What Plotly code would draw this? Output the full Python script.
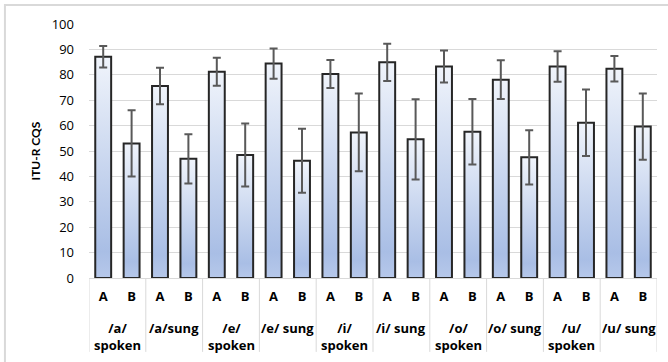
import plotly.graph_objects as go

# Listening-test scores (ITU-R CQS) for two systems per vowel / speaking condition
conditions = ["/a/<br>spoken", "/a/sung", "/e/<br>spoken", "/e/ sung", "/i/<br>spoken",
              "/i/ sung", "/o/<br>spoken", "/o/ sung", "/u/<br>spoken", "/u/ sung"]
systems = ["A", "B"]

mean_a = [87.1, 75.6, 81.2, 84.4, 80.3, 84.9, 83.3, 78.1, 83.3, 82.4]
mean_b = [53.0, 46.9, 48.4, 46.2, 57.3, 54.6, 57.6, 47.5, 61.1, 59.6]
sd_a = [4.2, 7.2, 5.5, 6.0, 5.5, 7.3, 6.3, 7.6, 6.0, 5.0]
sd_b = [13.0, 9.7, 12.4, 12.6, 15.3, 15.8, 12.9, 10.7, 13.1, 13.0]

y_ticks = [0, 10, 20, 30, 40, 50, 60, 70, 80, 90, 100]

# flatten into bar order: A, B for each condition
inner, values, errors = [], [], []
for k in range(len(conditions)):
    for s, m, e in ((systems[0], mean_a[k], sd_a[k]), (systems[1], mean_b[k], sd_b[k])):
        inner.append(s)
        values.append(m)
        errors.append(e)

n = len(values)
pos = list(range(n))
bar_w = 0.56
font = "Open Sans"
grid = "#d9d9d9"

fig = go.Figure()

# bars with vertical gradient fill
for i, v in zip(pos, values):
    x0, x1 = i - bar_w / 2, i + bar_w / 2
    fig.add_trace(go.Scatter(
        x=[x0, x0, x1, x1, x0], y=[0, v, v, 0, 0],
        mode="lines", fill="toself",
        line=dict(color="#262626", width=2),
        fillgradient=dict(type="vertical", start=0, stop=v,
                          colorscale=[[0, "#b6c8ea"], [0.12, "#a9bee5"], [1, "#f0f4fb"]]),
        hoverinfo="skip", showlegend=False))

# standard-deviation whiskers
fig.add_trace(go.Scatter(
    x=pos, y=values, mode="markers",
    marker=dict(size=1, color="rgba(0,0,0,0)"),
    error_y=dict(type="data", array=errors, visible=True, color="#595959",
                 thickness=2, width=4),
    hoverinfo="skip", showlegend=False))

# group separators below the category axis
shapes = []
for b in range(0, n + 1, 2):
    shapes.append(dict(type="line", xref="x", yref="paper", x0=b - 0.5, x1=b - 0.5,
                       y0=0, y1=-0.291, line=dict(color=grid, width=1)))
# chart frame
shapes.append(dict(type="rect", xref="paper", yref="paper",
                   x0=-0.148, x1=1.3, y0=-0.6, y1=1.075,
                   line=dict(color=grid, width=2), fillcolor="rgba(0,0,0,0)", layer="below"))

# condition labels under each A/B pair
annotations = []
for k, c in enumerate(conditions):
    annotations.append(dict(text=c, x=2 * k + 0.5, xref="x", y=-0.155, yref="paper",
                            xanchor="center", yanchor="top", showarrow=False,
                            font=dict(family=font, size=13, color="#000000", weight="bold")))

fig.update_layout(
    width=668, height=362,
    margin=dict(l=89, r=11, t=24, b=84),
    paper_bgcolor="white", plot_bgcolor="white",
    font=dict(family=font, size=13, color="#000000"),
    xaxis=dict(range=[-0.5, n - 0.5], tickvals=pos, ticktext=inner,
               showline=True, linecolor=grid, linewidth=1,
               showgrid=False, zeroline=False, ticks="",
               ticklabelstandoff=6,
               tickfont=dict(family=font, size=13, color="#000000", weight="bold")),
    yaxis=dict(range=[0, 100], tickvals=y_ticks, showgrid=True,
               gridcolor=grid, gridwidth=1, zeroline=False, showline=False,
               ticklabelstandoff=14,
               tickfont=dict(family=font, size=13, color="#000000"),
               title=dict(text="ITU-R CQS", standoff=8,
                          font=dict(family="Lato", size=12, color="#000000", weight="bold"))),
    shapes=shapes,
    annotations=annotations,
)

fig.write_html("out.html")
